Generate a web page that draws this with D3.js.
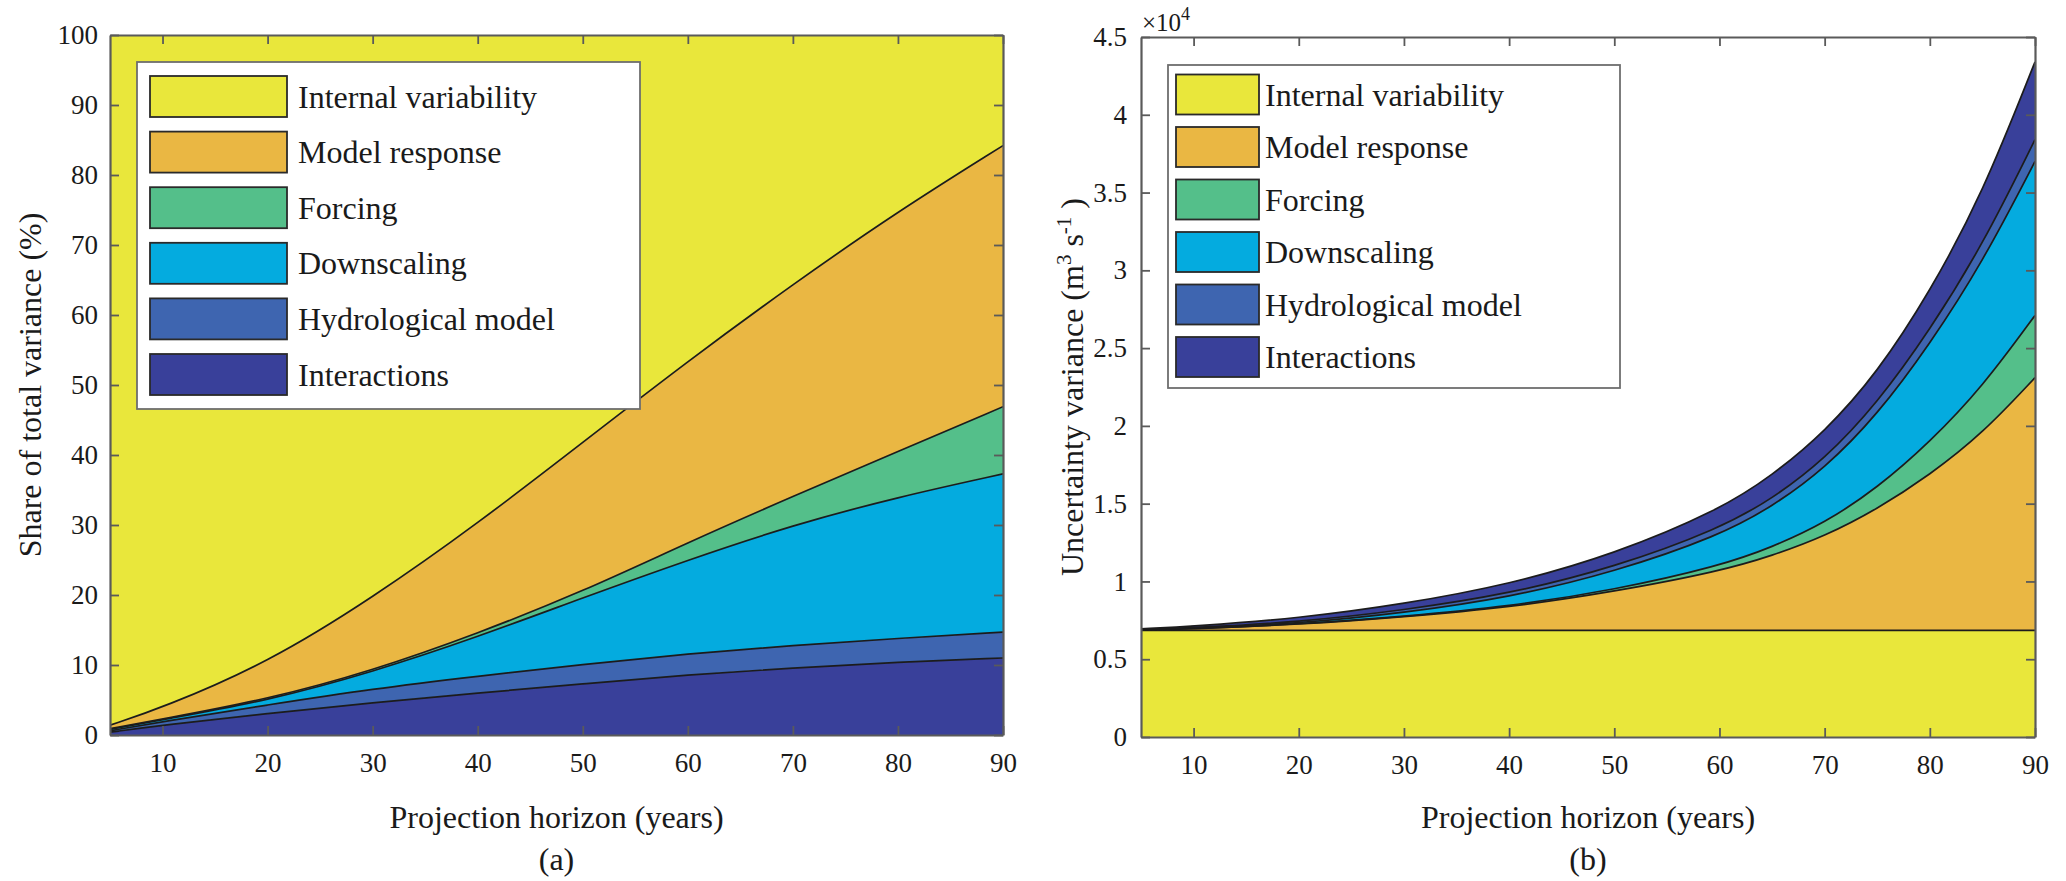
<!DOCTYPE html>
<html>
<head>
<meta charset="utf-8">
<script src="https://cdn.jsdelivr.net/npm/d3@7"></script>
<style>
  body { margin: 0; background: #fff; }
  text { font-family: "Liberation Serif", "Times New Roman", serif; fill: #1a1a1a; }
</style>
</head>
<body>
<script>
// sources of uncertainty, legend order
var sources = ["Internal variability", "Model response", "Forcing", "Downscaling", "Hydrological model", "Interactions"];

// (a) share of total variance (%)
var shareYears = [5, 10, 20, 30, 40, 50, 60, 70, 80, 90];
var shareInternal     = [98.6, 96.1, 89.7, 80.4, 69.8, 58.2, 46.6, 35.6, 25.2, 15.8];
var shareModel        = [0.5, 1.6, 5.2, 10.4, 15.7, 21.3, 25.9, 30.3, 34.3, 37.3];
var shareForcing      = [0.1, 0.1, 0.2, 0.2, 0.5, 0.9, 2.5, 4.1, 6.5, 9.6];
var shareDownscaling  = [0.2, 0.3, 0.6, 2.4, 5.6, 9.5, 13.4, 17.2, 20.2, 22.6];
var shareHydro        = [0.2, 0.5, 1.2, 2.0, 2.4, 2.8, 3.0, 3.2, 3.4, 3.7];
var shareInteractions = [0.4, 1.4, 3.1, 4.6, 6.0, 7.3, 8.6, 9.6, 10.4, 11.0];
var shareTicks = [0, 10, 20, 30, 40, 50, 60, 70, 80, 90, 100];

// (b) uncertainty variance, in units of 10^4 m3 s-1
var varYears = [5, 10, 20, 30, 40, 50, 60, 65, 70, 75, 80, 85, 90];
var varInternal     = [0.685, 0.685, 0.685, 0.685, 0.685, 0.685, 0.685, 0.685, 0.685, 0.685, 0.685, 0.685, 0.685];
var varModel        = [0.0035, 0.010, 0.038, 0.087, 0.148, 0.249, 0.38, 0.48, 0.605, 0.78, 1.00, 1.265, 1.625];
var varForcing      = [0.0005, 0.001, 0.002, 0.003, 0.006, 0.011, 0.034, 0.055, 0.085, 0.135, 0.21, 0.30, 0.40];
var varDownscaling  = [0.001, 0.003, 0.005, 0.023, 0.058, 0.115, 0.196, 0.26, 0.35, 0.47, 0.63, 0.80, 0.99];
var varHydro        = [0.001, 0.003, 0.009, 0.017, 0.023, 0.03, 0.044, 0.05, 0.06, 0.075, 0.09, 0.11, 0.14];
var varInteractions = [0.004, 0.010, 0.024, 0.040, 0.06, 0.085, 0.121, 0.15, 0.175, 0.195, 0.245, 0.33, 0.50];
var varTicks = [0, 0.5, 1, 1.5, 2, 2.5, 3, 3.5, 4, 4.5];

var yearTicks = [10, 20, 30, 40, 50, 60, 70, 80, 90];

var colors = {
    "Internal variability": "#e9e73b",
    "Model response": "#eab743",
    "Forcing": "#54bf8a",
    "Downscaling": "#04abdf",
    "Hydrological model": "#3e65b0",
    "Interactions": "#39409a"
};

var svg = d3.select("body").append("svg")
    .attr("width", 2066)
    .attr("height", 881);

/**
 * draw one stacked-area panel with its axes and legend
 */
function drawPanel(cfg) {
    var x = d3.scaleLinear().domain([5, 90]).range([cfg.left, cfg.right]);
    var y = d3.scaleLinear().domain(cfg.yDomain).range([cfg.bottom, cfg.top]);

    var rows = cfg.years.map(function (yr, i) {
        var r = {year: yr};
        sources.forEach(function (s) { r[s] = cfg.series[s][i]; });
        return r;
    });
    var layers = d3.stack().keys(cfg.order)(rows);

    svg.append("clipPath").attr("id", cfg.id + "-clip")
        .append("rect")
        .attr("x", cfg.left).attr("y", cfg.top)
        .attr("width", cfg.right - cfg.left).attr("height", cfg.bottom - cfg.top);

    var g = svg.append("g").attr("clip-path", "url(#" + cfg.id + "-clip)");

    // basis smoothing keeps the stacked bands from crossing
    var area = d3.area()
        .x(function (d) { return x(d.data.year); })
        .y0(function (d) { return y(d[0]); })
        .y1(function (d) { return y(d[1]); })
        .curve(d3.curveBasis);

    var edge = d3.line()
        .x(function (d) { return x(d.data.year); })
        .y(function (d) { return y(d[1]); })
        .curve(d3.curveBasis);

    g.selectAll(".layer")
        .data(layers)
        .enter().append("path")
        .attr("class", "layer")
        .attr("fill", function (d) { return colors[d.key]; })
        .attr("d", area);

    g.selectAll(".edge")
        .data(layers)
        .enter().append("path")
        .attr("class", "edge")
        .attr("fill", "none")
        .attr("stroke", "#1c1c1c")
        .attr("stroke-width", 1.7)
        .attr("d", edge);

    // axes, ticks pointing inward on all four sides
    var axes = svg.append("g");
    axes.append("g")
        .attr("transform", "translate(0," + cfg.bottom + ")")
        .call(d3.axisBottom(x).tickValues(yearTicks).tickSizeInner(-9).tickSizeOuter(0).tickPadding(18));
    axes.append("g")
        .attr("transform", "translate(0," + cfg.top + ")")
        .call(d3.axisTop(x).tickValues(yearTicks).tickSizeInner(-9).tickSizeOuter(0).tickFormat(""));
    axes.append("g")
        .attr("transform", "translate(" + cfg.left + ",0)")
        .call(d3.axisLeft(y).tickValues(cfg.yTicks).tickSizeInner(-9).tickSizeOuter(0)
            .tickPadding(cfg.yPad).tickFormat(d3.format("~g")));
    axes.append("g")
        .attr("transform", "translate(" + cfg.right + ",0)")
        .call(d3.axisRight(y).tickValues(cfg.yTicks).tickSizeInner(-9).tickSizeOuter(0).tickFormat(""));

    axes.selectAll("g").attr("font-family", null).attr("font-size", null);
    axes.selectAll(".domain").attr("stroke", "#5a5a5a").attr("stroke-width", 2.2);
    axes.selectAll(".tick line").attr("stroke", "#5a5a5a").attr("stroke-width", 1.8);
    axes.selectAll(".tick text")
        .style("font-size", "27px")
        .attr("fill", "#1a1a1a");

    var midX = (cfg.left + cfg.right) / 2;
    svg.append("text")
        .attr("x", midX).attr("y", 828)
        .attr("text-anchor", "middle")
        .style("font-size", "32px")
        .text("Projection horizon (years)");

    svg.append("text")
        .attr("x", midX).attr("y", 870)
        .attr("text-anchor", "middle")
        .style("font-size", "32px")
        .text(cfg.tag);

    // legend
    var lg = cfg.legend;
    var leg = svg.append("g");
    leg.append("rect")
        .attr("x", lg.x).attr("y", lg.y)
        .attr("width", lg.w).attr("height", lg.h)
        .attr("fill", "#fff")
        .attr("stroke", "#6e6e6e").attr("stroke-width", 1.8);

    var item = leg.selectAll(".item")
        .data(sources)
        .enter().append("g")
        .attr("class", "item")
        .attr("transform", function (d, i) { return "translate(0," + (lg.row0 + i * lg.step) + ")"; });

    item.append("rect")
        .attr("x", lg.sx).attr("y", 0)
        .attr("width", lg.sw).attr("height", lg.sh)
        .attr("fill", function (d) { return colors[d]; })
        .attr("stroke", "#2a2a2a").attr("stroke-width", 1.8);

    item.append("text")
        .attr("x", lg.tx).attr("y", lg.sh / 2 + 11)
        .style("font-size", "32px")
        .text(function (d) { return d; });

    return {x: x, y: y};
}

// (a)
drawPanel({
    id: "share",
    left: 110, right: 1003, top: 35, bottom: 735,
    yDomain: [0, 100], yTicks: shareTicks, yPad: 12,
    years: shareYears,
    series: {
        "Internal variability": shareInternal,
        "Model response": shareModel,
        "Forcing": shareForcing,
        "Downscaling": shareDownscaling,
        "Hydrological model": shareHydro,
        "Interactions": shareInteractions
    },
    order: ["Interactions", "Hydrological model", "Downscaling", "Forcing", "Model response", "Internal variability"],
    tag: "(a)",
    legend: {x: 137, y: 62, w: 503, h: 347, row0: 76, step: 55.6, sx: 150, sw: 137, sh: 41, tx: 298}
});

svg.append("text")
    .attr("transform", "translate(41,385) rotate(-90)")
    .attr("text-anchor", "middle")
    .style("font-size", "32px")
    .text("Share of total variance (%)");

// (b)
drawPanel({
    id: "var",
    left: 1141, right: 2035, top: 37, bottom: 737,
    yDomain: [0, 4.5], yTicks: varTicks, yPad: 14,
    years: varYears,
    series: {
        "Internal variability": varInternal,
        "Model response": varModel,
        "Forcing": varForcing,
        "Downscaling": varDownscaling,
        "Hydrological model": varHydro,
        "Interactions": varInteractions
    },
    order: ["Internal variability", "Model response", "Forcing", "Downscaling", "Hydrological model", "Interactions"],
    tag: "(b)",
    legend: {x: 1168, y: 65, w: 452, h: 323, row0: 74.5, step: 52.5, sx: 1176, sw: 83, sh: 40, tx: 1265}
});

var ylab = svg.append("text")
    .attr("transform", "translate(1083,387) rotate(-90)")
    .attr("text-anchor", "middle")
    .style("font-size", "32px");
ylab.append("tspan").text("Uncertainty variance (m");
ylab.append("tspan").attr("dy", "-12").style("font-size", "21px").text("3");
ylab.append("tspan").attr("dy", "12").text(" s");
ylab.append("tspan").attr("dy", "-12").style("font-size", "21px").text("-1");
ylab.append("tspan").attr("dy", "12").text(" )");

var expo = svg.append("text")
    .attr("x", 1142).attr("y", 31)
    .style("font-size", "25px");
expo.append("tspan").text("\u00d710");
expo.append("tspan").attr("dy", "-11").style("font-size", "18px").text("4");
</script>
</body>
</html>
